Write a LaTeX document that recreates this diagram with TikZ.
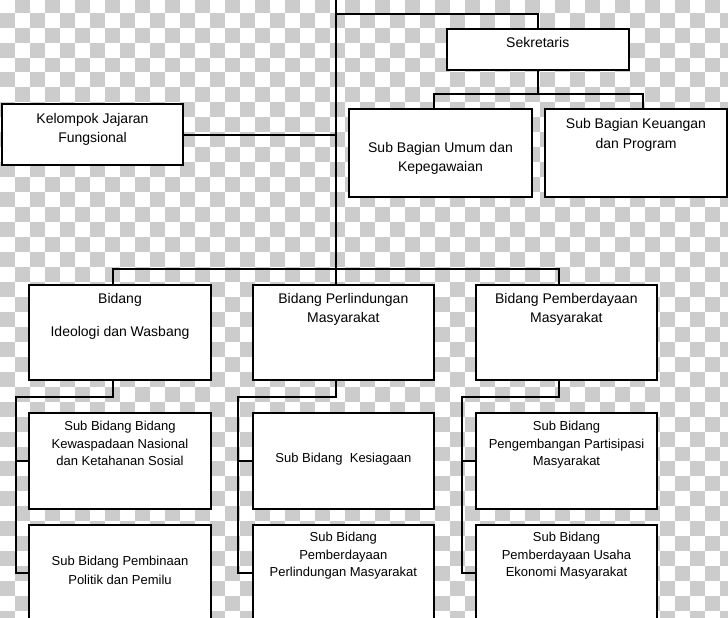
\documentclass[tikz,border=0pt]{standalone}
\usepackage{fontspec}
\setmainfont{Liberation Sans}
\definecolor{chk}{RGB}{204,204,204}
\begin{document}
\begin{tikzpicture}[x=1pt,y=-1pt,
  box/.style={draw=black, line width=2pt, fill=white, rectangle, inner sep=0pt},
  conn/.style={draw=black, line width=2pt},
  lbl/.style={align=center, anchor=base, inner sep=0pt, font=\fontsize{14}{19}\selectfont},
  sublbl/.style={align=center, anchor=base, inner sep=0pt, font=\fontsize{13}{17.5}\selectfont}]
\clip (0,0) rectangle (728,618);
\fill[white] (0,0) rectangle (728,618);
% checkerboard background
\foreach \j in {0,...,42}{
  \pgfmathtruncatemacro\s{mod(\j+1,2)}
  \pgfmathtruncatemacro\t{\s+2}
  \foreach \i in {\s,\t,...,48}{
    \fill[chk] (\i*15,-2.3+\j*14.96) rectangle ++(15,14.96);
  }
}
% boxes
\node[box, minimum width=181pt, minimum height=61pt] (kel) at (92.5,134.5) {};
\node[box, minimum width=181.5pt, minimum height=41pt] (sek) at (537.75,49.5) {};
\node[box, minimum width=183pt, minimum height=88pt] (umum) at (440.5,153) {};
\node[box, minimum width=182pt, minimum height=88pt] (keu) at (636,153) {};
\node[box, minimum width=181.4pt, minimum height=95pt] (b1) at (120,332.5) {};
\node[box, minimum width=181.4pt, minimum height=95pt] (b2) at (343.35,332.5) {};
\node[box, minimum width=181.4pt, minimum height=95pt] (b3) at (566.35,332.5) {};
\node[box, minimum width=181.5pt, minimum height=96pt] (s1a) at (120,461.3) {};
\node[box, minimum width=181.5pt, minimum height=96pt] (s1b) at (120,573) {};
\node[box, minimum width=181.4pt, minimum height=96pt] (s2a) at (343.35,461.3) {};
\node[box, minimum width=181.4pt, minimum height=96pt] (s2b) at (343.35,573) {};
\node[box, minimum width=181.6pt, minimum height=96pt] (s3a) at (566.5,461.3) {};
\node[box, minimum width=181.6pt, minimum height=96pt] (s3b) at (566.5,573) {};
% coordinates
\coordinate (top) at (336,-3);
\coordinate (j1) at (336,14);
\coordinate (bM) at (336,269);
\coordinate (bL) at (113,269);
\coordinate (bR) at (559,269);
\coordinate (sb) at (537.75,94);
\coordinate (sbL) at (434,94);
\coordinate (sbR) at (643,94);
\coordinate (c1) at (113,396.7);
\coordinate (l1) at (15.5,396.7);
\coordinate (c2) at (336,396.7);
\coordinate (l2) at (238.3,396.7);
\coordinate (c3) at (559,396.7);
\coordinate (l3) at (462.3,396.7);
% connectors
\draw[conn] (top) -- (bM);
\draw[conn] (j1) -| (sek.north);
\draw[conn] (kel.east) -- (kel.east -| top);
\draw[conn] (sek.south) -- (sb);
\draw[conn] (sbL |- umum.north) -- (sbL) -- (sbR) -- (sbR |- keu.north);
\draw[conn] (bL |- b1.north) -- (bL) -- (bR) -- (bR |- b3.north);
\draw[conn] (bM) -- (bM |- b2.north);
\draw[conn] (c1 |- b1.south) -- (c1) -- (l1) |- (s1b.west);
\draw[conn] (l1 |- s1a.west) -- (s1a.west);
\draw[conn] (c2 |- b2.south) -- (c2) -- (l2) |- (s2b.west);
\draw[conn] (l2 |- s2a.west) -- (s2a.west);
\draw[conn] (c3 |- b3.south) -- (c3) -- (l3) |- (s3b.west);
\draw[conn] (l3 |- s3a.west) -- (s3a.west);
% texts (anchor base = baseline of the last line)
\node[lbl] (kelT) at (92.5,142) {Kelompok Jajaran\\Fungsional};
\node[lbl] (sekT) at (537.75,48) {Sekretaris};
\node[lbl] (umumT) at (440.5,171) {Sub Bagian Umum dan\\Kepegawaian};
\node[lbl, font=\fontsize{14}{20}\selectfont] (keuT) at (636,148) {Sub Bagian Keuangan\\dan Program};
\node[lbl] (b1T) at (120,336) {Bidang\\[14pt]Ideologi dan Wasbang};
\node[lbl] (b2T) at (343.35,322) {Bidang Perlindungan\\Masyarakat};
\node[lbl] (b3T) at (566.35,322) {Bidang Pemberdayaan\\Masyarakat};
\node[sublbl] (s1aT) at (120,465.7) {Sub Bidang Bidang\\Kewaspadaan Nasional\\dan Ketahanan Sosial};
\node[sublbl, font=\fontsize{13}{18.3}\selectfont] (s1bT) at (120,584) {Sub Bidang Pembinaan\\Politik dan Pemilu};
\node[sublbl] (s2aT) at (343.35,462) {Sub Bidang\ \ Kesiagaan};
\node[sublbl] (s2bT) at (343.35,576.7) {Sub Bidang\\Pemberdayaan\\Perlindungan Masyarakat};
\node[sublbl] (s3aT) at (566.5,465.7) {Sub Bidang\\Pengembangan Partisipasi\\Masyarakat};
\node[sublbl] (s3bT) at (566.5,576.7) {Sub Bidang\\Pemberdayaan Usaha\\Ekonomi Masyarakat};
\end{tikzpicture}
\end{document}
